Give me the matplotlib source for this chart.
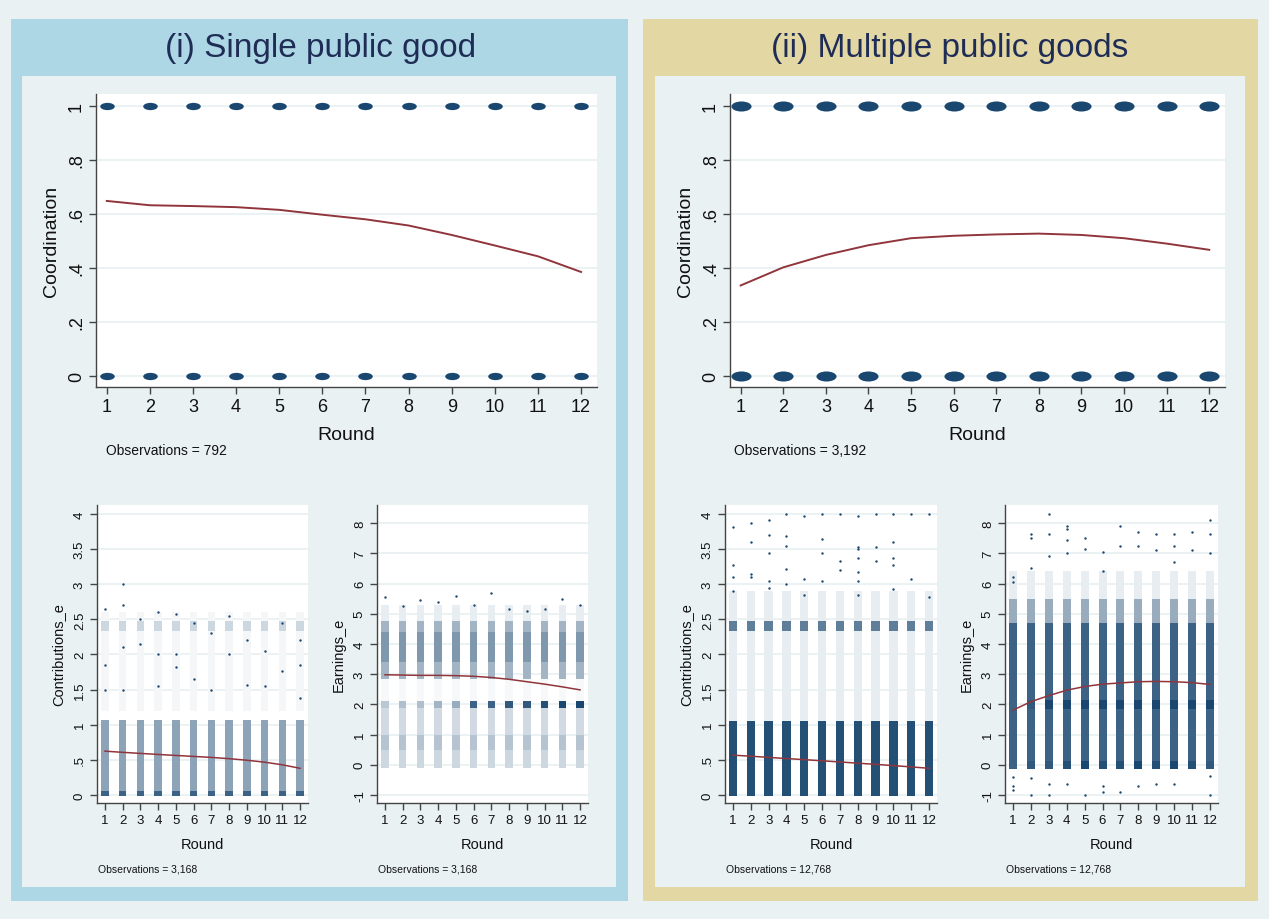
import matplotlib.pyplot as plt
from matplotlib.patches import Rectangle
from matplotlib.path import Path
from matplotlib.transforms import Affine2D
from matplotlib.colors import to_rgb

# ---- data ----
rounds = list(range(1, 13))
round_labels = [str(r) for r in rounds]

coord_levels = [0, 1]
coord_fit_single = [0.648, 0.632, 0.629, 0.625, 0.615, 0.597, 0.580, 0.557, 0.522, 0.483, 0.443, 0.385]
coord_fit_multi = [0.335, 0.402, 0.448, 0.484, 0.510, 0.519, 0.524, 0.527, 0.522, 0.510, 0.490, 0.467]

contrib_fit_single = [0.624, 0.607, 0.592, 0.577, 0.563, 0.549, 0.535, 0.517, 0.495, 0.467, 0.430, 0.380]
contrib_fit_multi = [0.567, 0.552, 0.535, 0.519, 0.503, 0.487, 0.470, 0.453, 0.436, 0.418, 0.400, 0.380]
earn_fit_single = [2.98, 2.97, 2.96, 2.96, 2.95, 2.93, 2.89, 2.83, 2.75, 2.67, 2.58, 2.48]
earn_fit_multi = [1.81, 2.09, 2.29, 2.47, 2.59, 2.67, 2.71, 2.75, 2.76, 2.75, 2.72, 2.66]

# point-cloud density by value range, same in every round: (low, high, density)
contrib_bands_single = [(-0.02, 0.06, 0.85), (0.06, 1.07, 0.5), (1.2, 2.33, 0.05),
                        (2.33, 2.47, 0.22), (2.47, 2.6, 0.05)]
contrib_bands_multi = [(-0.02, 1.06, 0.95), (1.06, 2.33, 0.1), (2.33, 2.47, 0.7), (2.47, 2.9, 0.1)]
earn_bands_single = [(-0.1, 0.5, 0.22), (0.5, 1.0, 0.32), (1.0, 1.88, 0.2), (2.12, 2.85, 0.04),
                     (2.85, 3.4, 0.4), (3.4, 4.4, 0.56), (4.4, 4.75, 0.4), (4.75, 5.3, 0.1)]
earn_bands_multi = [(0.12, 1.85, 0.85), (2.15, 4.7, 0.85), (4.7, 5.5, 0.45), (5.5, 6.4, 0.1)]
# clusters whose density changes by round
earn_two_single = [0.3, 0.35, 0.35, 0.4, 0.45, 0.85, 0.85, 0.9, 0.9, 0.95, 1.0, 1.0]
earn_two_multi = [0.85, 0.9, 1.0, 1.0, 1.0, 1.0, 1.0, 1.0, 1.0, 1.0, 1.0, 1.0]
earn_zero_multi = [0.85, 0.9, 0.9, 0.95, 1.0, 0.95, 0.95, 1.0, 0.95, 1.0, 0.95, 0.9]

# sparse outlying points (round, value)
contrib_out_single = [(1, 2.65), (2, 2.7), (2, 3.0), (4, 2.6), (5, 2.57), (8, 2.55), (1, 1.85), (1, 1.5),
                      (2, 1.5), (6, 1.65), (10, 1.55), (3, 2.15), (9, 1.57), (11, 1.77), (12, 1.85),
                      (12, 1.38), (7, 1.5), (4, 1.55), (5, 1.82), (11, 2.45), (3, 2.5), (6, 2.45),
                      (2, 2.1), (4, 2.0), (5, 2.0), (8, 2.0), (9, 2.2), (10, 2.05), (12, 2.2), (7, 2.3)]
contrib_out_multi = [(4, 4.0), (6, 4.0), (7, 4.0), (9, 4.0), (10, 4.0), (11, 4.0), (12, 4.0), (5, 3.97),
                     (8, 3.97), (3, 3.92), (2, 3.87), (1, 3.82), (3, 3.7), (4, 3.68), (6, 3.65), (10, 3.6),
                     (2, 3.6), (4, 3.55), (8, 3.53), (9, 3.53), (8, 3.5), (3, 3.45), (6, 3.45), (8, 3.38),
                     (10, 3.37), (7, 3.33), (9, 3.33), (1, 3.28), (10, 3.27), (4, 3.22), (7, 3.2), (2, 3.15),
                     (8, 3.17), (2, 3.1), (5, 3.08), (11, 3.07), (6, 3.05), (3, 3.04), (1, 3.1), (4, 3.0),
                     (8, 3.05), (10, 2.93), (3, 2.95), (12, 2.82), (5, 2.85), (8, 2.85), (1, 2.9)]
earn_out_single = [(7, 5.7), (5, 5.6), (1, 5.55), (11, 5.5), (3, 5.45), (4, 5.4), (12, 5.3), (2, 5.25),
                   (6, 5.3), (8, 5.15), (9, 5.1), (10, 5.15)]
earn_out_multi = [(3, 8.3), (12, 8.1), (4, 7.9), (7, 7.9), (4, 7.8), (2, 7.65), (3, 7.65), (8, 7.7),
                  (9, 7.65), (10, 7.65), (11, 7.7), (12, 7.65), (2, 7.5), (4, 7.45), (5, 7.5), (7, 7.25),
                  (8, 7.25), (6, 7.05), (9, 7.1), (11, 7.1), (12, 7.0), (5, 7.15), (4, 7.0), (3, 6.9),
                  (2, 6.5), (1, 6.2), (1, 6.05), (6, 6.4), (10, 6.7), (10, 7.25), (1, -0.7), (1, -0.85),
                  (2, -1.0), (2, -0.45), (3, -1.0), (3, -0.65), (4, -0.62), (5, -1.0), (6, -0.7),
                  (6, -0.9), (7, -0.9), (8, -0.7), (9, -0.65), (10, -0.65), (12, -1.0), (12, -0.38), (1, -0.4)]

coord_ticks = [0, 0.2, 0.4, 0.6, 0.8, 1]
coord_ticklabels = ["0", ".2", ".4", ".6", ".8", "1"]
contrib_ticks = [0, 0.5, 1, 1.5, 2, 2.5, 3, 3.5, 4]
contrib_ticklabels = ["0", ".5", "1", "1.5", "2", "2.5", "3", "3.5", "4"]
earn_ticks = [-1, 0, 1, 2, 3, 4, 5, 6, 7, 8]
earn_ticklabels = ["-1", "0", "1", "2", "3", "4", "5", "6", "7", "8"]

# ---- style ----
NAVY = "#1A476F"
MAROON = "#90353B"
BG = "#E9F1F3"
TXT = "#111111"
plt.rcParams['font.family'] = ['Liberation Sans', 'DejaVu Sans']

W, H = 1269, 920
fig = plt.figure(figsize=(W / 100, H / 100), dpi=100, facecolor=BG)

# wide flat blob marker for the 0/1 outcomes
blob = Path.unit_circle().transformed(Affine2D().scale(1.0, 0.5))


def shade(d):
    # navy mixed with white by density
    n = to_rgb(NAVY)
    return tuple(1 - d * (1 - c) for c in n)


def px_rect(l, t, r, b, color):
    fig.add_artist(Rectangle((l / W, 1 - b / H), (r - l) / W, (b - t) / H,
                             transform=fig.transFigure, color=color, lw=0, zorder=0))


def px_axes(l, t, r, b):
    return fig.add_axes([l / W, 1 - b / H, (r - l) / W, (b - t) / H])


# panel boxes
px_rect(11, 20, 628, 902, "#ADD7E5")
px_rect(22, 77, 616, 888, BG)
px_rect(643, 20, 1258, 902, "#E3D8A4")
px_rect(655, 77, 1245, 888, BG)
fig.text(321 / W, 1 - 48 / H, "(i) Single public good", ha="center", va="center",
         fontsize=24, color="#1F2D56")
fig.text(950 / W, 1 - 48 / H, "(ii) Multiple public goods", ha="center", va="center",
         fontsize=24, color="#1F2D56")


def style_axes(ax, ticks, ticklabels, ylim, xlim, tick_fs, lab_fs, ylabel):
    ax.set_facecolor("white")
    for s in ["top", "right"]:
        ax.spines[s].set_visible(False)
    for s in ["left", "bottom"]:
        ax.spines[s].set_color("#444444")
        ax.spines[s].set_linewidth(1.0)
    ax.set_xlim(*xlim)
    ax.set_ylim(*ylim)
    ax.set_xticks(rounds)
    ax.set_xticklabels(round_labels, fontsize=tick_fs, color=TXT)
    ax.set_yticks(ticks)
    ax.set_yticklabels(ticklabels, fontsize=tick_fs, color=TXT, rotation=90, va="center")
    ax.tick_params(length=5, width=1, color="#444444", pad=3)
    ax.yaxis.grid(True, color=BG, lw=1.3)
    ax.set_axisbelow(True)
    ax.set_xlabel("Round", fontsize=lab_fs, color=TXT, labelpad=8)
    ax.set_ylabel(ylabel, fontsize=lab_fs, color=TXT, labelpad=6)


def coord_panel(box, fit, size, obs_xy, obs):
    ax = px_axes(*box)
    style_axes(ax, coord_ticks, coord_ticklabels, (-0.041, 1.044), (0.75, 12.37), 13, 14, "Coordination")
    for lev in coord_levels:
        ax.scatter(rounds, [lev] * len(rounds), s=size, color=NAVY, marker=blob, lw=0, zorder=3)
    ax.plot(rounds, fit, color=MAROON, lw=1.4, zorder=4)
    fig.text(obs_xy[0] / W, 1 - obs_xy[1] / H, obs, fontsize=10, color=TXT, va="center")


def cloud_panel(box, ticks, ticklabels, ylim, ylabel, bands, width, extra, out, fit, obs_xy, obs):
    ax = px_axes(*box)
    style_axes(ax, ticks, ticklabels, ylim, (0.55, 12.45), 9.5, 10.5, ylabel)
    for lo, hi, d in bands:
        ax.bar(rounds, hi - lo, bottom=lo, width=width, color=shade(d), lw=0, zorder=2)
    for lo, hi, dens in extra:
        ax.bar(rounds, hi - lo, bottom=lo, width=width, color=[shade(d) for d in dens], lw=0, zorder=2)
    ax.scatter([p[0] for p in out], [p[1] for p in out], s=3, color=NAVY, lw=0, zorder=3)
    ax.plot(rounds, fit, color=MAROON, lw=1.1, zorder=4)
    fig.text(obs_xy[0] / W, 1 - obs_xy[1] / H, obs, fontsize=7.5, color=TXT, va="center")


coord_panel((96, 95, 597, 388), coord_fit_single, 110, (106, 451), "Observations = 792")
coord_panel((730, 95, 1225, 388), coord_fit_multi, 210, (734, 451), "Observations = 3,192")

cloud_panel((97, 506, 308, 804), contrib_ticks, contrib_ticklabels, (-0.114, 4.128), "Contributions_e",
            contrib_bands_single, 0.42, [], contrib_out_single, contrib_fit_single,
            (98, 870), "Observations = 3,168")
cloud_panel((377, 506, 588, 804), earn_ticks, earn_ticklabels, (-1.265, 8.6), "Earnings_e",
            earn_bands_single, 0.42, [(1.88, 2.12, earn_two_single)], earn_out_single, earn_fit_single,
            (378, 870), "Observations = 3,168")
cloud_panel((725, 506, 937, 804), contrib_ticks, contrib_ticklabels, (-0.114, 4.128), "Contributions_e",
            contrib_bands_multi, 0.47, [], contrib_out_multi, contrib_fit_multi,
            (726, 870), "Observations = 12,768")
cloud_panel((1005, 506, 1218, 804), earn_ticks, earn_ticklabels, (-1.265, 8.6), "Earnings_e",
            earn_bands_multi, 0.45, [(1.85, 2.15, earn_two_multi), (-0.15, 0.12, earn_zero_multi)],
            earn_out_multi, earn_fit_multi, (1006, 870), "Observations = 12,768")

fig.savefig("out.png", dpi=100, facecolor=BG)
